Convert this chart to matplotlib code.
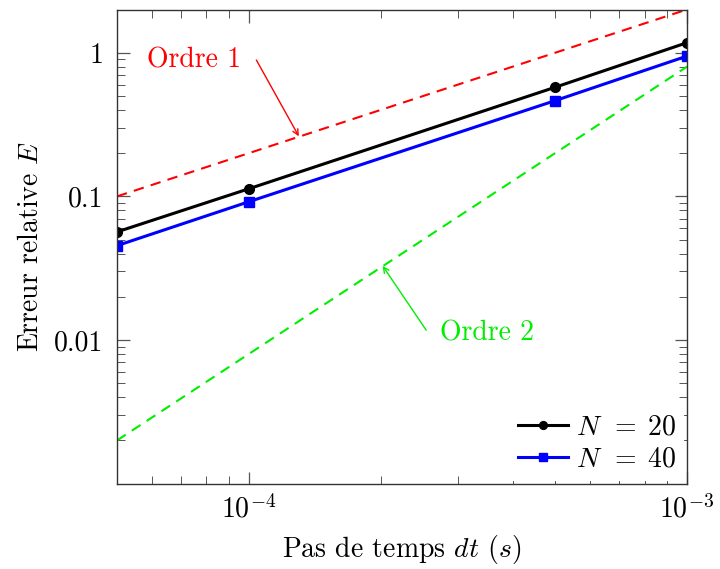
import matplotlib
matplotlib.use("Agg")
import matplotlib.pyplot as plt
from matplotlib.ticker import FixedLocator, LogLocator, FuncFormatter, NullFormatter

plt.rcParams['font.family'] = 'serif'
plt.rcParams['font.serif'] = ['cmr10']
plt.rcParams['mathtext.fontset'] = 'cm'
plt.rcParams['axes.unicode_minus'] = False
plt.rcParams['axes.formatter.use_mathtext'] = True

# data
dt = [5e-5, 1e-4, 5e-4, 1e-3]
err_n20 = [0.0566, 0.113, 0.575, 1.175]
err_n40 = [0.0454, 0.0918, 0.464, 0.948]

ref_x = [5e-5, 1e-3]
ordre1 = [0.1, 2.0]
ordre2 = [0.002, 0.8]

fig = plt.figure(figsize=(7.2, 5.69), dpi=100)
ax = fig.add_axes([0.1625, 0.15, 0.7917, 0.8333])

ax.plot(ref_x, ordre1, color='red', lw=1.5, dashes=(5, 3.5))
ax.plot(ref_x, ordre2, color='#00ee00', lw=1.5, dashes=(5, 3.5))
ax.plot(dt, err_n20, color='black', lw=2.2, marker='o', ms=7, label=r'$N\;\,=\;20$')
ax.plot(dt, err_n40, color='blue', lw=2.2, marker='s', ms=6.5, label=r'$N\;\,=\;40$')

ax.set_xscale('log')
ax.set_yscale('log')
ax.set_xlim(5e-5, 1e-3)
ax.set_ylim(1e-3, 2)

ax.yaxis.set_major_locator(FixedLocator([0.01, 0.1, 1]))
ax.yaxis.set_minor_locator(LogLocator(base=10, subs=range(2, 10), numticks=20))
ax.yaxis.set_major_formatter(FuncFormatter(lambda v, p: '%g' % v))
ax.yaxis.set_minor_formatter(NullFormatter())

ax.tick_params(which='both', direction='in', top=True, right=True,
               color='#555555', labelsize=20)
ax.tick_params(which='major', length=9, width=0.9)
ax.tick_params(which='minor', length=6, width=0.7)
ax.tick_params(axis='x', which='major', pad=8)
ax.tick_params(axis='y', which='major', pad=10)
for s in ax.spines.values():
    s.set_color('#333333')
    s.set_linewidth(1.0)

ax.set_xlabel('Pas de temps $dt$ $(s)$', fontsize=20, labelpad=7)
ax.set_ylabel('Erreur relative $E$', fontsize=20, labelpad=7)

# annotations
ax.text(7.5e-5, 0.88, 'Ordre 1', color='red', fontsize=20, ha='center', va='center')
ax.annotate('', xy=(1.3e-4, 0.262), xytext=(1.04e-4, 0.89),
            arrowprops=dict(arrowstyle='->', color='red', lw=1.0, shrinkA=0, shrinkB=0))
ax.text(3.5e-4, 0.0112, 'Ordre 2', color='#00ee00', fontsize=20, ha='center', va='center')
ax.annotate('', xy=(2.02e-4, 0.0328), xytext=(2.54e-4, 0.0117),
            arrowprops=dict(arrowstyle='->', color='#00ee00', lw=1.0, shrinkA=0, shrinkB=0))

leg = ax.legend(loc='lower right', fontsize=20, fancybox=False, edgecolor='none',
                facecolor='white', framealpha=1, borderaxespad=0.1, handlelength=1.8,
                handletextpad=0.3, labelspacing=0.2, borderpad=0.3, markerscale=0.8)

fig.savefig('out.png', dpi=100)
